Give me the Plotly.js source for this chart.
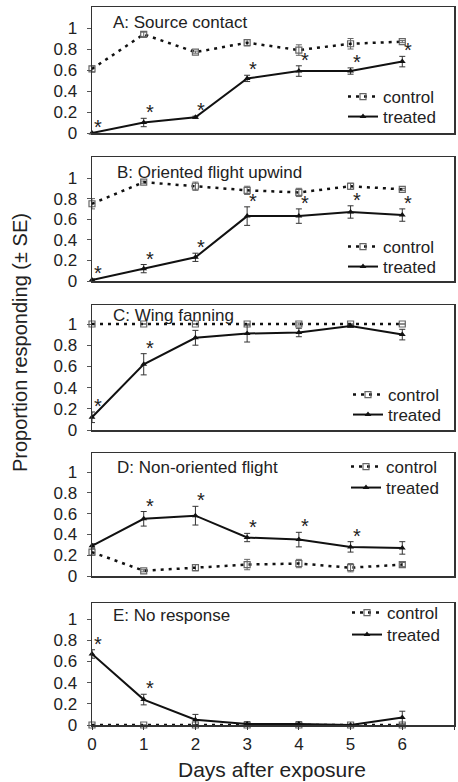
<!DOCTYPE html>
<html><head><meta charset="utf-8">
<script src="https://cdn.plot.ly/plotly-3.0.1.min.js"></script>
<style>html,body{margin:0;padding:0;background:#fff}#chart{width:458px;height:782px}</style>
</head><body><div id="chart"></div>
<script>
// ---- data ----
const days = [0, 1, 2, 3, 4, 5, 6];
const xTickVals = [0, 1, 2, 3, 4, 5, 6, 7];
const yTickVals = [0, 0.2, 0.4, 0.6, 0.8, 1];
const yTickText = ["0", "0.2", "0.4", "0.6", "0.8", "1"];
const panelTitles = ["A: Source contact", "B: Oriented flight upwind", "C: Wing fanning", "D: Non-oriented flight", "E: No response"];
const seriesNames = ["control", "treated"];

const controlA    = [0.61, 0.94, 0.77, 0.86, 0.79, 0.85, 0.87];
const controlErrA = [0.03, 0.02, 0.01, 0.03, 0.05, 0.05, 0.01];
const treatedA    = [0.00, 0.10, 0.15, 0.52, 0.59, 0.59, 0.68];
const treatedErrA = [0.00, 0.04, 0.01, 0.03, 0.05, 0.03, 0.05];
const sigA        = [1, 1, 1, 1, 1, 1, 1];

const controlB    = [0.75, 0.96, 0.92, 0.88, 0.86, 0.92, 0.89];
const controlErrB = [0.05, 0.01, 0.04, 0.04, 0.04, 0.03, 0.01];
const treatedB    = [0.01, 0.12, 0.23, 0.63, 0.63, 0.67, 0.64];
const treatedErrB = [0.01, 0.04, 0.04, 0.09, 0.07, 0.06, 0.06];
const sigB        = [1, 1, 1, 1, 1, 1, 1];

const controlC    = [1.00, 1.00, 1.00, 1.00, 1.00, 1.00, 1.00];
const controlErrC = [0.00, 0.00, 0.00, 0.00, 0.01, 0.00, 0.00];
const treatedC    = [0.12, 0.62, 0.87, 0.91, 0.92, 0.98, 0.90];
const treatedErrC = [0.05, 0.10, 0.07, 0.08, 0.04, 0.01, 0.05];
const sigC        = [1, 1, 0, 0, 0, 0, 0];

const controlD    = [0.23, 0.05, 0.08, 0.11, 0.12, 0.08, 0.11];
const controlErrD = [0.03, 0.01, 0.03, 0.05, 0.04, 0.04, 0.02];
const treatedD    = [0.29, 0.55, 0.58, 0.37, 0.35, 0.28, 0.27];
const treatedErrD = [0.02, 0.07, 0.09, 0.04, 0.07, 0.05, 0.06];
const sigD        = [0, 1, 1, 1, 1, 1, 0];

const controlE    = [0, 0, 0, 0, 0, 0, 0];
const controlErrE = [0, 0, 0, 0, 0, 0, 0];
const treatedE    = [0.67, 0.24, 0.05, 0.01, 0.01, 0.00, 0.07];
const treatedErrE = [0.04, 0.05, 0.05, 0.02, 0.02, 0.00, 0.06];
const sigE        = [1, 1, 0, 0, 0, 0, 0];

// ---- layout geometry (pixels) ----
const W = 458, H = 782;
const L = 92, R = 4, T = 7, B = 57;
const plotW = W - L - R, plotH = H - T - B, baseY = H - B;
const px2x = p => (p - L) / plotW;
const px2y = p => (baseY - p) / plotH;

const panels = [
  {c: controlA, ce: controlErrA, t: treatedA, te: treatedErrA, sig: sigA, top: 7,   bot: 133, leg: [97, 117],  legX: 343, titleX: 111, titleY: 22},
  {c: controlB, ce: controlErrB, t: treatedB, te: treatedErrB, sig: sigB, top: 157, bot: 281, leg: [247, 267], legX: 343, titleX: 115, titleY: 173},
  {c: controlC, ce: controlErrC, t: treatedC, te: treatedErrC, sig: sigC, top: 305, bot: 430, leg: [395, 415], legX: 348, titleX: 111, titleY: 315},
  {c: controlD, ce: controlErrD, t: treatedD, te: treatedErrD, sig: sigD, top: 453, bot: 576, leg: [467, 488], legX: 346, titleX: 115, titleY: 467},
  {c: controlE, ce: controlErrE, t: treatedE, te: treatedErrE, sig: sigE, top: 603, bot: 725, leg: [613, 635], legX: 347, titleX: 111, titleY: 615}
];
const yUnitPx = [105, 103, 106, 104, 106];

const FONT = "Liberation Sans, Arial, Helvetica, sans-serif";
const TXT = "#222";
const traces = [];
const annotations = [];
const layout = {
  width: W, height: H,
  margin: {l: L, r: R, t: T, b: B},
  paper_bgcolor: "#fff", plot_bgcolor: "#fff",
  font: {family: FONT, size: 17, color: TXT},
  showlegend: true,
  annotations: annotations
};

let legCount = 0;
function addLegend(xPx, yPx) {
  legCount += 1;
  const name = legCount === 1 ? "legend" : "legend" + legCount;
  layout[name] = {
    x: px2x(xPx), y: px2y(yPx), xanchor: "left", yanchor: "middle",
    xref: "paper", yref: "paper",
    bgcolor: "rgba(0,0,0,0)", borderwidth: 0,
    font: {size: 17, color: TXT}, itemwidth: 30, tracegroupgap: 0
  };
  return name;
}

panels.forEach((p, i) => {
  const n = i + 1;
  const xs = n === 1 ? "x" : "x" + n;
  const ys = n === 1 ? "y" : "y" + n;
  const yMax = (p.bot - p.top) / yUnitPx[i];

  traces.push({
    x: days, y: p.c, xaxis: xs, yaxis: ys, name: seriesNames[0], legend: addLegend(p.legX, p.leg[0]),
    type: "scatter", mode: "lines+markers", cliponaxis: false,
    line: {color: "#111", width: 2.5, dash: "3px,5px"},
    marker: {symbol: "square-open", size: 6, color: "#666", line: {width: 1.2, color: "#666"}},
    error_y: {type: "data", array: p.ce, visible: true, color: "#666", thickness: 1, width: 3}
  });
  traces.push({
    x: days, y: p.t, xaxis: xs, yaxis: ys, name: seriesNames[1], legend: addLegend(p.legX, p.leg[1]),
    type: "scatter", mode: "lines+markers", cliponaxis: false,
    line: {color: "#111", width: 2},
    marker: {symbol: "triangle-up", size: 6, color: "#111"},
    error_y: {type: "data", array: p.te, visible: true, color: "#333", thickness: 1, width: 3}
  });

  const isBottom = n === 5;
  layout[n === 1 ? "xaxis" : "xaxis" + n] = {
    domain: [0, 1], range: [0, 7], anchor: ys,
    showline: true, mirror: true, linecolor: "#333", linewidth: 1.5,
    showgrid: false, zeroline: false, fixedrange: true,
    tickvals: xTickVals, ticktext: xTickVals.map(String),
    showticklabels: isBottom, ticks: isBottom ? "outside" : "", ticklen: 3, tickcolor: "#333",
    tickfont: {size: 17, color: TXT}
  };
  layout[n === 1 ? "yaxis" : "yaxis" + n] = {
    domain: [px2y(p.bot), px2y(p.top)], range: [0, yMax], anchor: xs,
    showline: true, mirror: true, linecolor: "#333", linewidth: 1.5,
    showgrid: false, zeroline: false, fixedrange: true,
    tickvals: yTickVals, ticktext: yTickText,
    ticks: "outside", ticklen: 4, tickcolor: "#555", ticklabelstandoff: 6,
    tickfont: {size: 17, color: TXT}
  };

  annotations.push({
    text: panelTitles[i], xref: "paper", yref: "paper",
    x: px2x(p.titleX), y: px2y(p.titleY), xanchor: "left", yanchor: "middle",
    showarrow: false, font: {size: 17, color: TXT}
  });

  days.forEach((d, k) => {
    if (!p.sig[k]) return;
    annotations.push({
      text: "*", xref: xs, yref: ys, x: d, y: p.t[k] + p.te[k],
      xanchor: "center", yanchor: "middle", xshift: 6, yshift: 6,
      showarrow: false, font: {size: 20, color: TXT}
    });
  });
});

annotations.push({
  text: "Proportion responding (± SE)", xref: "paper", yref: "paper",
  x: px2x(20), y: px2y(343), xanchor: "center", yanchor: "middle",
  textangle: -90, showarrow: false, font: {size: 20, color: TXT}
});
annotations.push({
  text: "Days after exposure", xref: "paper", yref: "paper",
  x: px2x(272), y: px2y(769), xanchor: "center", yanchor: "middle",
  showarrow: false, font: {size: 21, color: TXT}
});

Plotly.newPlot("chart", traces, layout, {displayModeBar: false, staticPlot: true});
</script>
</body></html>
